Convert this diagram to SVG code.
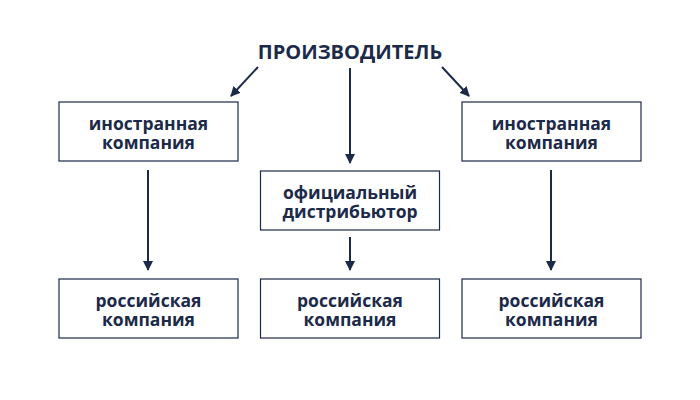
<svg xmlns="http://www.w3.org/2000/svg" width="700" height="400" viewBox="0 0 700 400">
<defs>
<marker id="ah" viewBox="0 0 10 10" refX="9" refY="5" markerWidth="10" markerHeight="11" markerUnits="userSpaceOnUse" orient="auto">
<path d="M0,0 L10,5 L0,10 z" fill="#1c2a4a"/>
</marker>
<style>
.box{fill:#fff;stroke:#1c2a4a;stroke-width:1.2}
.t{font-family:"Open Sans","Noto Sans",sans-serif;font-weight:bold;fill:#1c2a4a;text-anchor:middle;font-size:17.5px}
.title{font-size:20px}
.ln{stroke:#1c2a4a;stroke-width:2;fill:none;marker-end:url(#ah)}
</style>
</defs>
<rect width="700" height="400" fill="#fff"/>
<g id="producer"><text class="t title" x="350" y="59">ПРОИЗВОДИТЕЛЬ</text></g>
<g id="foreign-left"><rect class="box" x="59" y="102" width="179" height="59"/><text class="t" x="148.5" y="129.5">иностранная</text><text class="t" x="148.5" y="148.5">компания</text></g>
<g id="distributor"><rect class="box" x="260.5" y="171" width="179" height="59"/><text class="t" x="350" y="198.5">официальный</text><text class="t" x="350" y="217.5">дистрибьютор</text></g>
<g id="foreign-right"><rect class="box" x="462" y="102" width="179" height="59"/><text class="t" x="551.5" y="129.5">иностранная</text><text class="t" x="551.5" y="148.5">компания</text></g>
<g id="russian-left"><rect class="box" x="59" y="279" width="179" height="59"/><text class="t" x="148.5" y="306.5">российская</text><text class="t" x="148.5" y="325.5">компания</text></g>
<g id="russian-mid"><rect class="box" x="260.5" y="279" width="179" height="59"/><text class="t" x="350" y="306.5">российская</text><text class="t" x="350" y="325.5">компания</text></g>
<g id="russian-right"><rect class="box" x="462" y="279" width="179" height="59"/><text class="t" x="551.5" y="306.5">российская</text><text class="t" x="551.5" y="325.5">компания</text></g>
<g id="connectors">
<line class="ln" x1="258" y1="67" x2="231" y2="96"/>
<line class="ln" x1="350" y1="68" x2="350" y2="163"/>
<line class="ln" x1="442" y1="67" x2="469" y2="96"/>
<line class="ln" x1="148" y1="170" x2="148" y2="270"/>
<line class="ln" x1="350" y1="237" x2="350" y2="270"/>
<line class="ln" x1="551" y1="170" x2="551" y2="270"/>
</g>
</svg>
